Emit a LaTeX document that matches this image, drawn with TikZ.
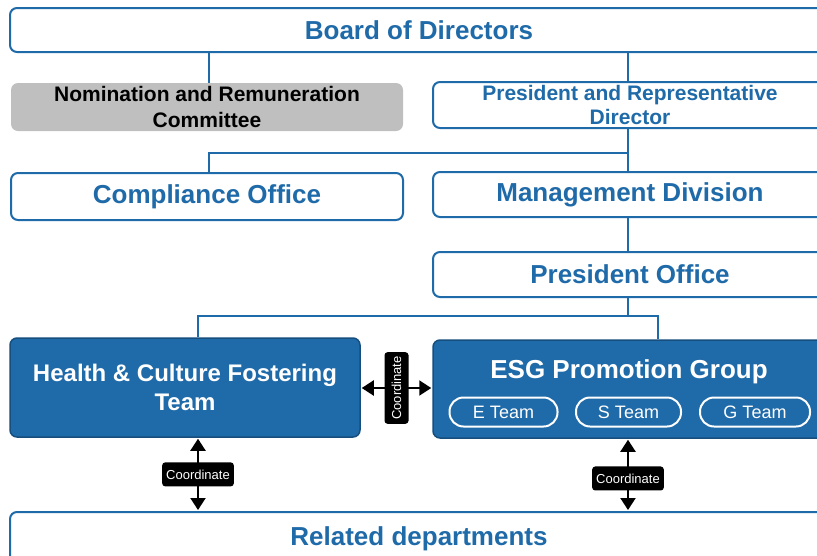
\documentclass[tikz,border=0pt]{standalone}
\usepackage{fontspec}
\setmainfont{Liberation Sans}
\usetikzlibrary{arrows.meta}

\definecolor{orgblue}{RGB}{31,106,168}
\definecolor{orgdark}{RGB}{22,78,126}
\definecolor{orggray}{RGB}{191,191,191}

\begin{document}
\begin{tikzpicture}[x=1pt, y=-1pt,
  outbox/.style={draw=orgblue, line width=2pt, fill=white, rounded corners=7pt,
    text=orgblue, align=center, inner sep=0pt, font=\bfseries\fontsize{26}{30}\selectfont},
  smalltext/.style={font=\bfseries\fontsize{21}{24}\selectfont},
  graybox/.style={fill=orggray, rounded corners=7pt, align=center, inner sep=0pt,
    font=\bfseries\fontsize{21}{26}\selectfont},
  bluebox/.style={draw=orgdark, line width=1.5pt, fill=orgblue, rounded corners=7pt,
    text=white, align=center, inner sep=0pt, font=\bfseries\fontsize{24}{29}\selectfont},
  teampill/.style={draw=white, line width=2pt, rounded corners=14pt, text=white,
    minimum height=29pt, font=\fontsize{18}{20}\selectfont},
  coordtag/.style={fill=black, rounded corners=3pt, text=white, inner xsep=4pt,
    minimum height=24pt, font=\fontsize{13}{15}\selectfont},
  link/.style={draw=orgblue, line width=2pt},
  coordarrow/.style={line width=2pt, {Triangle[width=15pt,length=12pt]}-{Triangle[width=15pt,length=12pt]},
    shorten <=1pt, shorten >=1pt}]
  \path[use as bounding box, clip] (0,0) rectangle (817,555);

  % top levels
  \node[outbox, minimum width=818pt, minimum height=44pt] (board) at (419,30) {Board of Directors};
  \node[graybox, minimum width=392pt, minimum height=48pt, text depth=0pt] (nrc) at (207,107) {Nomination and Remuneration\\Committee};
  \node[outbox, smalltext, minimum width=394pt, minimum height=46pt] (pres) at (630,105) {President and Representative\\Director};
  \node[outbox, minimum width=392pt, minimum height=47pt] (comp) at (207,196.5) {\raisebox{-2pt}{Compliance Office}};
  \node[outbox, minimum width=394pt, minimum height=45pt] (mgmt) at (630,194.5) {\raisebox{-1pt}{Management Division}};
  \node[outbox, minimum width=394pt, minimum height=45pt] (presoff) at (630,274.5) {President Office};

  % teams
  \node[bluebox, minimum width=350pt, minimum height=99pt] (health) at (185,387.5) {Health \& Culture Fostering\\Team};
  \node[bluebox, minimum width=394pt, minimum height=98pt] (esg) at (630,389) {};
  \node[text=white, font=\bfseries\fontsize{26}{30}\selectfont] (esgtitle) at (629,372) {ESG Promotion Group};
  \node[teampill, minimum width=108pt] (eteam) at (503.5,412) {E Team};
  \node[teampill, minimum width=105pt] (steam) at (628.5,412) {S Team};
  \node[teampill, minimum width=110pt] (gteam) at (755,412) {G Team};

  \node[outbox, minimum width=818pt, minimum height=54pt] (related) at (419,539) {Related departments};

  % reporting lines
  \coordinate (split) at (628,153);
  \coordinate (hjoin) at (198,316);
  \coordinate (ejoin) at (658,316);
  \draw[link] (nrc.north -| 209,0) -- (board.south -| 209,0);
  \draw[link] (pres.north -| split) -- (board.south -| split);
  \draw[link] (pres.south -| split) -- (mgmt.north -| split);
  \draw[link] (comp.north -| 209,0) |- (split);
  \draw[link] (mgmt.south -| split) -- (presoff.north -| split);
  \draw[link] (presoff.south -| split) -- (split |- hjoin);
  \draw[link] (hjoin |- health.north) -- (hjoin) -- (ejoin) -- (ejoin |- esg.north);

  % coordination
  \draw[coordarrow] (health.east |- 0,388) -- (esg.west |- 0,388)
    node[coordtag, rotate=90, midway] (coordmid) {Coordinate};
  \draw[coordarrow] (hjoin |- health.south) -- (hjoin |- related.north)
    node[coordtag, midway] (coordleft) {Coordinate};
  \draw[coordarrow] (split |- esg.south) -- (split |- related.north)
    node[coordtag, pos=0.55] (coordright) {Coordinate};
\end{tikzpicture}
\end{document}
